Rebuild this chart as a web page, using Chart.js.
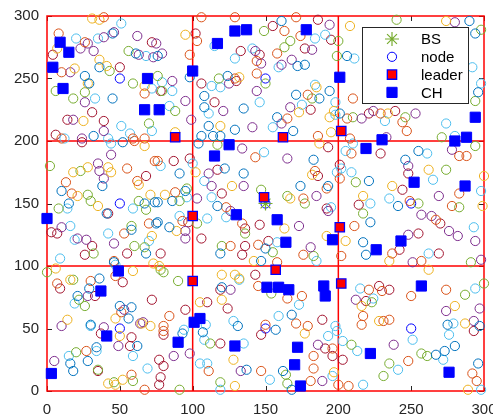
<!DOCTYPE html>
<html>
<head>
<meta charset="utf-8">
<script src="https://cdn.jsdelivr.net/npm/chart.js@4.4.1/dist/chart.umd.min.js"></script>
<style>
  html, body { margin: 0; padding: 0; background: #fff; }
</style>
</head>
<body>
<canvas id="chart" width="493" height="417"></canvas>
<script>
// Nodes, grouped by marker colour
const nodesBlue = [[45,286],[61,270],[36,259],[26,252],[29,246],[45,234],[32,204],[76,268],[98,251],[124,252],[108,236],[108,227],[135,226],[129,209],[111,212],[106,204],[114,204],[119,204],[161,296],[172,260],[177,261],[206,268],[171,237],[187,234],[194,240],[201,222],[158,219],[169,208],[294,286],[290,296],[296,239],[52,199],[38,164],[10,160],[15,150],[41,142],[67,150],[74,151],[75,134],[58,129],[68,110],[104,198],[91,174],[122,178],[135,174],[95,160],[86,152],[76,151],[117,148],[84,131],[76,135],[119,110],[147,104],[150,114],[183,185],[221,168],[174,164],[193,164],[222,135],[217,119],[219,109],[246,185],[255,192],[241,148],[168,61],[157,49],[162,16],[168,1],[267,29],[273,32],[280,36],[275,53],[297,52],[296,22],[21,76],[29,82],[36,90],[46,103],[50,68],[56,58],[58,67],[30,53],[34,35],[28,24],[16,22],[18,16],[62,36],[93,46],[107,47],[131,52],[137,17],[120,83]];
const nodesOrange = [[39,299],[8,286],[26,279],[10,255],[67,238],[59,202],[67,202],[106,299],[129,299],[103,280],[144,264],[144,254],[98,269],[129,250],[171,299],[163,288],[174,284],[158,270],[179,237],[210,234],[165,218],[206,218],[186,204],[208,202],[229,222],[244,215],[247,208],[10,202],[60,200],[55,178],[62,168],[74,184],[13,167],[17,158],[70,134],[53,126],[46,104],[143,187],[76,184],[88,159],[123,147],[93,136],[134,134],[126,116],[145,117],[209,190],[184,176],[201,170],[192,162],[176,154],[211,132],[176,109],[202,108],[158,103],[283,188],[288,188],[283,158],[249,152],[278,148],[267,137],[237,110],[257,104],[145,84],[165,74],[175,76],[150,53],[171,54],[179,52],[196,34],[183,28],[183,18],[147,16],[181,8],[200,5],[207,4],[248,24],[292,14],[295,8],[274,81],[250,76],[230,80],[221,81],[231,56],[235,57],[217,60],[216,53],[7,86],[30,88],[47,92],[51,63],[27,32],[58,13],[67,1],[80,52],[80,48],[84,60],[111,16]];
const nodesYellow = [[31,298],[36,297],[7,274],[36,265],[41,260],[19,258],[28,246],[67,244],[25,216],[95,285],[132,251],[119,212],[88,207],[208,292],[185,243],[173,223],[197,224],[194,219],[195,207],[274,296],[234,222],[67,196],[18,175],[28,179],[44,175],[42,179],[63,165],[21,156],[35,148],[71,157],[72,124],[102,175],[127,164],[81,157],[89,128],[142,104],[187,198],[182,173],[167,154],[217,156],[163,130],[192,124],[205,120],[262,177],[237,164],[299,148],[300,172],[262,97],[235,104],[177,46],[197,15],[289,1],[287,54],[280,68],[228,56],[216,68],[6,98],[16,89],[59,96],[47,58],[14,57],[50,44],[42,6],[47,5],[52,9],[71,52],[65,54],[77,100],[73,102],[105,71],[129,4],[128,25],[120,73],[120,93],[129,93],[132,90]];
const nodesPurple = [[28,278],[39,283],[46,287],[62,284],[23,274],[32,272],[16,255],[63,269],[73,267],[26,231],[18,217],[39,208],[24,202],[143,272],[147,262],[75,278],[79,270],[86,248],[125,246],[144,240],[95,232],[121,224],[99,217],[141,211],[194,293],[182,273],[168,265],[161,261],[167,227],[161,214],[216,218],[224,224],[280,295],[253,222],[233,203],[35,182],[44,189],[36,176],[39,170],[10,131],[21,122],[27,121],[46,118],[134,194],[111,174],[113,164],[135,164],[103,154],[126,144],[95,128],[95,122],[165,186],[185,156],[193,144],[173,132],[181,115],[248,180],[278,193],[269,156],[257,141],[264,140],[276,128],[282,124],[294,120],[298,105],[248,125],[251,103],[186,37],[189,8],[274,64],[297,66],[238,37],[212,73],[293,56],[28,76],[53,65],[10,52],[39,51],[49,36],[64,54],[5,24],[87,28],[98,30],[66,55],[126,81],[133,16]];
const nodesGreen = [[56,272],[43,256],[59,246],[6,240],[18,234],[26,239],[70,214],[149,288],[76,252],[79,240],[88,224],[118,250],[200,280],[167,280],[163,275],[199,268],[150,246],[182,234],[210,219],[240,297],[298,289],[294,232],[246,219],[271,203],[2,180],[23,176],[28,157],[30,152],[8,146],[63,152],[68,145],[58,132],[60,116],[67,115],[32,110],[117,197],[96,162],[91,152],[147,161],[103,134],[136,126],[120,116],[212,167],[165,156],[177,150],[217,142],[183,108],[155,111],[294,196],[274,177],[255,150],[283,147],[291,103],[154,78],[164,13],[165,6],[209,37],[231,12],[235,22],[257,30],[261,28],[287,77],[300,86],[223,71],[0,95],[18,89],[22,73],[26,68],[35,17],[20,31],[46,7],[59,8],[91,1],[90,88],[78,97],[80,95],[112,38],[119,7]];
const nodesCyan = [[51,294],[20,282],[35,282],[68,268],[72,242],[33,234],[51,212],[72,208],[12,202],[42,202],[57,206],[115,276],[129,266],[141,274],[79,247],[113,244],[119,243],[86,240],[84,228],[111,222],[146,231],[184,282],[191,285],[211,266],[159,259],[184,245],[198,231],[175,229],[155,211],[198,221],[292,259],[298,246],[232,216],[274,214],[280,204],[44,198],[14,146],[59,146],[16,132],[19,121],[42,126],[70,120],[9,106],[47,101],[149,191],[78,180],[100,182],[108,168],[113,155],[96,155],[91,140],[110,138],[123,139],[210,198],[205,192],[199,175],[202,178],[209,175],[195,147],[222,150],[158,119],[185,104],[261,190],[265,169],[235,154],[298,160],[293,131],[262,110],[173,69],[159,60],[193,44],[198,52],[199,48],[203,40],[213,32],[153,9],[196,12],[217,5],[241,17],[251,41],[272,25],[276,45],[279,54],[294,82],[298,1],[224,74],[215,82],[19,70],[30,52],[34,32],[15,28],[59,28],[69,18],[94,49],[109,53],[108,41],[105,22],[110,22],[119,1],[128,56],[135,38],[132,89]];
const nodesRed = [[72,279],[4,269],[50,259],[31,223],[14,217],[39,216],[6,205],[102,286],[133,272],[146,269],[106,246],[130,248],[78,240],[115,231],[186,297],[155,292],[195,281],[177,274],[181,225],[221,222],[239,224],[24,199],[68,172],[42,142],[3,127],[7,126],[31,116],[26,109],[55,110],[87,184],[98,186],[117,177],[120,158],[97,135],[106,122],[136,130],[146,133],[136,116],[134,109],[78,110],[193,195],[201,181],[186,172],[214,149],[192,146],[152,120],[229,190],[248,174],[244,161],[270,134],[255,126],[269,110],[242,113],[143,93],[147,45],[191,34],[196,28],[203,25],[293,48],[235,81],[228,84],[219,72],[189,57],[9,82],[33,76],[52,87],[37,46],[58,43],[57,36],[35,16],[72,73],[80,45],[77,25],[80,20],[78,11],[77,5],[95,65],[110,71],[119,38],[124,66],[119,81]];
const nodesCenter = [[50,250],[150,250],[250,250],[50,150],[150,150],[250,150],[50,50],[150,50],[250,50]];

const leaders = [[88,203],[162,203],[202,208],[149,155],[100,140],[201,131],[100,88],[157,97],[202,86]];
const clusterHeads = [[9,279],[15,271],[4,259],[11,242],[69,250],[67,225],[77,225],[100,256],[117,278],[129,288],[137,289],[125,197],[115,188],[178,289],[201,251],[294,219],[288,203],[280,200],[230,201],[219,194],[252,167],[287,164],[0,138],[130,141],[49,96],[37,80],[41,44],[101,55],[105,58],[90,39],[129,36],[3,14],[158,137],[164,119],[196,121],[226,113],[243,120],[151,83],[159,83],[166,81],[190,84],[191,76],[257,84],[172,35],[170,21],[174,4],[222,30],[276,15]];
const baseStation = [[150,150]];

const gridValues = [100, 200];
const tickValues = [0, 50, 100, 150, 200, 250, 300];

const toXY = arr => arr.map(p => ({ x: p[0], y: p[1] }));
const FONT = "'Liberation Sans', Arial, Helvetica, sans-serif";

function nodeSet(data, color) {
  return {
    label: 'node',
    data: toXY(data),
    pointStyle: 'circle',
    pointRadius: 4.6,
    pointBorderWidth: 1,
    borderColor: color,
    backgroundColor: 'rgba(0,0,0,0)',
    order: 4,
    clip: false
  };
}

const datasets = [
  nodeSet(nodesBlue, '#0072BD'),
  nodeSet(nodesOrange, '#D95319'),
  nodeSet(nodesYellow, '#EDB120'),
  nodeSet(nodesPurple, '#7E2F8E'),
  nodeSet(nodesGreen, '#77AC30'),
  nodeSet(nodesCyan, '#4DBEEE'),
  nodeSet(nodesRed, '#A2142F'),
  nodeSet(nodesCenter, '#0000FF'),
  {
    label: 'BS',
    data: toXY(baseStation),
    pointStyle: 'star',
    pointRadius: 7,
    pointBorderWidth: 1.2,
    borderColor: '#77AC30',
    backgroundColor: '#77AC30',
    order: 3,
    clip: false
  },
  {
    label: 'leader',
    data: toXY(leaders),
    pointStyle: 'rect',
    pointRadius: 6.6,
    pointBorderWidth: 1.3,
    borderColor: '#0000FF',
    backgroundColor: '#FF0000',
    order: 2,
    clip: false
  },
  {
    label: 'CH',
    data: toXY(clusterHeads),
    pointStyle: 'rect',
    pointRadius: 7.2,
    pointBorderWidth: 1,
    borderColor: '#0000FF',
    backgroundColor: '#0000FF',
    order: 1,
    clip: false
  }
];

// red region lines, box and inward tick marks
const regionLines = {
  id: 'regionLines',
  beforeDatasetsDraw(chart) {
    const { ctx, chartArea: a, scales: { x, y } } = chart;
    ctx.save();
    ctx.strokeStyle = '#262626';
    ctx.lineWidth = 1;
    tickValues.forEach(v => {
      const px = Math.round(x.getPixelForValue(v)) + 0.5;
      const py = Math.round(y.getPixelForValue(v)) + 0.5;
      ctx.beginPath();
      ctx.moveTo(px, a.bottom); ctx.lineTo(px, a.bottom - 5);
      ctx.moveTo(px, a.top); ctx.lineTo(px, a.top + 5);
      ctx.moveTo(a.left, py); ctx.lineTo(a.left + 5, py);
      ctx.moveTo(a.right, py); ctx.lineTo(a.right - 5, py);
      ctx.stroke();
    });
    ctx.strokeStyle = '#FF0000';
    ctx.lineWidth = 1.5;
    gridValues.forEach(v => {
      const px = x.getPixelForValue(v);
      const py = y.getPixelForValue(v);
      ctx.beginPath();
      ctx.moveTo(px, a.top); ctx.lineTo(px, a.bottom);
      ctx.moveTo(a.left, py); ctx.lineTo(a.right, py);
      ctx.stroke();
    });
    ctx.strokeRect(a.left, a.top, a.right - a.left, a.bottom - a.top);
    ctx.restore();
  }
};

// MATLAB style legend box in the upper right corner
const legendBox = {
  id: 'legendBox',
  afterDatasetsDraw(chart) {
    const ctx = chart.ctx;
    const items = [8, 7, 9, 10];
    const bx = 362, by = 27, bw = 106, bh = 76;
    ctx.save();
    ctx.fillStyle = '#FFFFFF';
    ctx.fillRect(bx, by, bw, bh);
    ctx.strokeStyle = '#262626';
    ctx.lineWidth = 1;
    ctx.strokeRect(bx + 0.5, by + 0.5, bw, bh);
    items.forEach((idx, i) => {
      const ds = chart.data.datasets[idx];
      const cy = by + 12 + i * 17.8;
      ctx.fillStyle = ds.backgroundColor;
      ctx.strokeStyle = ds.borderColor;
      ctx.lineWidth = ds.pointBorderWidth;
      Chart.helpers.drawPoint(ctx, {
        pointStyle: ds.pointStyle,
        radius: ds.pointRadius,
        rotation: 0,
        borderWidth: ds.pointBorderWidth
      }, 392, cy);
      ctx.fillStyle = '#000000';
      ctx.font = '15px ' + FONT;
      ctx.textBaseline = 'middle';
      ctx.textAlign = 'left';
      ctx.fillText(ds.label, 421, cy + 1);
    });
    ctx.restore();
  }
};

// keep the plot box fixed, let edge labels overflow like the original
const noScalePadding = s => {
  s.paddingLeft = 0; s.paddingRight = 0;
  s.paddingTop = 0; s.paddingBottom = 0;
};

new Chart(document.getElementById('chart'), {
  type: 'scatter',
  data: { datasets: datasets },
  options: {
    responsive: false,
    animation: false,
    layout: { padding: { top: 16, right: 9, left: 0, bottom: 0 } },
    plugins: {
      legend: { display: false },
      tooltip: { enabled: false }
    },
    scales: {
      x: {
        type: 'linear',
        min: 0,
        max: 300,
        afterFit: s => { s.height = 26; noScalePadding(s); },
        grid: { display: false, drawTicks: false },
        border: { display: false },
        ticks: {
          stepSize: 50,
          padding: 10,
          color: '#262626',
          font: { family: FONT, size: 15 },
          maxRotation: 0
        }
      },
      y: {
        type: 'linear',
        min: 0,
        max: 300,
        afterFit: s => { s.width = 47; noScalePadding(s); },
        grid: { display: false, drawTicks: false },
        border: { display: false },
        ticks: {
          stepSize: 50,
          padding: 8,
          color: '#262626',
          font: { family: FONT, size: 15 }
        }
      }
    }
  },
  plugins: [regionLines, legendBox]
});
</script>
</body>
</html>
